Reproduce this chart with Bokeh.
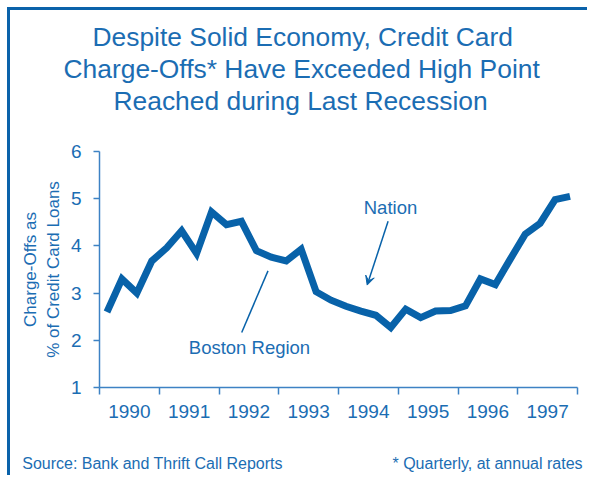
from bokeh.plotting import figure
from bokeh.models import FixedTicker, Label, Arrow, VeeHead, Range1d, Title, LinearAxis
from bokeh.embed import file_html
from bokeh.resources import INLINE

# ---- data ----
years = [1990, 1991, 1992, 1993, 1994, 1995, 1996, 1997]
quarter_offsets = [0.125, 0.375, 0.625, 0.875]
charge_off_rate = [2.60, 3.30, 3.00, 3.68, 3.96, 4.32, 3.84, 4.72,
                   4.45, 4.52, 3.90, 3.76, 3.68, 3.93, 3.03, 2.85,
                   2.72, 2.62, 2.53, 2.27, 2.66, 2.48, 2.62, 2.63,
                   2.73, 3.30, 3.18, 3.72, 4.25, 4.48, 4.98, 5.05]
y_ticks = [1, 2, 3, 4, 5, 6]
title_lines = ["Despite Solid Economy, Credit Card",
               "Charge-Offs* Have Exceeded High Point",
               "Reached during Last Recession"]
y_label_lines = ["Charge-Offs as", "% of Credit Card Loans"]
source_note = "Source: Bank and Thrift Call Reports"
rate_note = "* Quarterly, at annual rates"

x_quarters = [y + q for y in years for q in quarter_offsets]

LINE = "#0862a9"
TEXT = "#1b6db3"
AXIS = "#3d82c4"
FONT = "Liberation Sans"

p = figure(width=580, height=468, x_range=Range1d(years[0], years[-1] + 1),
           y_range=Range1d(y_ticks[0], y_ticks[-1]),
           output_backend="svg", toolbar_location=None,
           min_border_left=89, min_border_right=13, min_border_bottom=91,
           min_border_top=141)
p.styles = {"border-left": "3px solid #0a62aa", "border-top": "3px solid #0a62aa",
            "margin-left": "7px", "margin-top": "7px"}
p.outline_line_color = None
p.grid.visible = False
p.background_fill_color = "white"

p.line(x_quarters, charge_off_rate, line_color=LINE, line_width=7, line_join="miter")

# title: one Title per line, stacked outward from the frame above a spacer
p.add_layout(Title(text=" ", text_font_size="1px", standoff=33), "above")
title_offsets = [-7, -36, 14]
for line, off in reversed(list(zip(title_lines, title_offsets))):
    p.add_layout(Title(text=line, align="left", offset=off, text_font=FONT,
                       text_font_size="26.4px", text_font_style="normal",
                       text_color=TEXT, standoff=0), "above")

# x axis: labels centred in each year, ticks at year boundaries
xa = p.xaxis[0]
xa.ticker = FixedTicker(ticks=[y + 0.5 for y in years],
                        minor_ticks=years + [years[-1] + 1])
xa.major_label_overrides = {y + 0.5: str(y) for y in years}
xa.major_tick_out = 0
xa.major_tick_in = 0
xa.minor_tick_out = 7
xa.minor_tick_in = 0
xa.minor_tick_line_color = AXIS
xa.minor_tick_line_width = 1.5
xa.axis_line_color = AXIS
xa.axis_line_width = 1.5
xa.major_label_standoff = 10
xa.major_label_text_font = FONT
xa.major_label_text_font_size = "19px"
xa.major_label_text_color = TEXT

# footer notes carried by a tick-less axis below the year axis
notes_axis = LinearAxis(ticker=FixedTicker(ticks=[1990.887, 1996.494], minor_ticks=[]),
                        major_label_overrides={1990.887: source_note, 1996.494: rate_note},
                        axis_line_color=None, major_tick_line_color=None,
                        major_tick_out=0, major_tick_in=0,
                        major_label_standoff=34,
                        major_label_text_font=FONT, major_label_text_font_size="16px",
                        major_label_text_color=TEXT)
p.add_layout(notes_axis, "below")

ya = p.yaxis[0]
ya.ticker = FixedTicker(ticks=y_ticks, minor_ticks=[])
ya.major_tick_out = 6
ya.major_tick_in = 0
ya.major_tick_line_color = AXIS
ya.major_tick_line_width = 1.5
ya.axis_line_color = AXIS
ya.axis_line_width = 1.5
ya.major_label_standoff = 12
ya.major_label_text_font = FONT
ya.major_label_text_font_size = "19px"
ya.major_label_text_color = TEXT
ya.axis_label = "\n".join(y_label_lines)
ya.axis_label_text_font = FONT
ya.axis_label_text_font_size = "17px"
ya.axis_label_text_font_style = "normal"
ya.axis_label_text_color = TEXT
ya.axis_label_text_line_height = 1.2
ya.axis_label_standoff = 5

# annotations
p.add_layout(Label(x=1994.87, y=4.81, text="Nation", text_align="center",
                   text_baseline="middle", text_font=FONT, text_font_size="18.5px",
                   text_color=TEXT))
p.add_layout(Arrow(x_start=1994.83, y_start=4.52, x_end=1994.48, y_end=3.17,
                   line_color=LINE, line_width=1.5,
                   end=VeeHead(size=9, fill_color=LINE, line_color=LINE)))
p.add_layout(Label(x=1992.51, y=1.84, text="Boston Region", text_align="center",
                   text_baseline="middle", text_font=FONT, text_font_size="18.5px",
                   text_color=TEXT))
p.segment(x0=[1992.82], y0=[3.47], x1=[1992.38], y1=[2.165],
          line_color=LINE, line_width=1.5)

open("out.html", "w").write(file_html(p, INLINE))
